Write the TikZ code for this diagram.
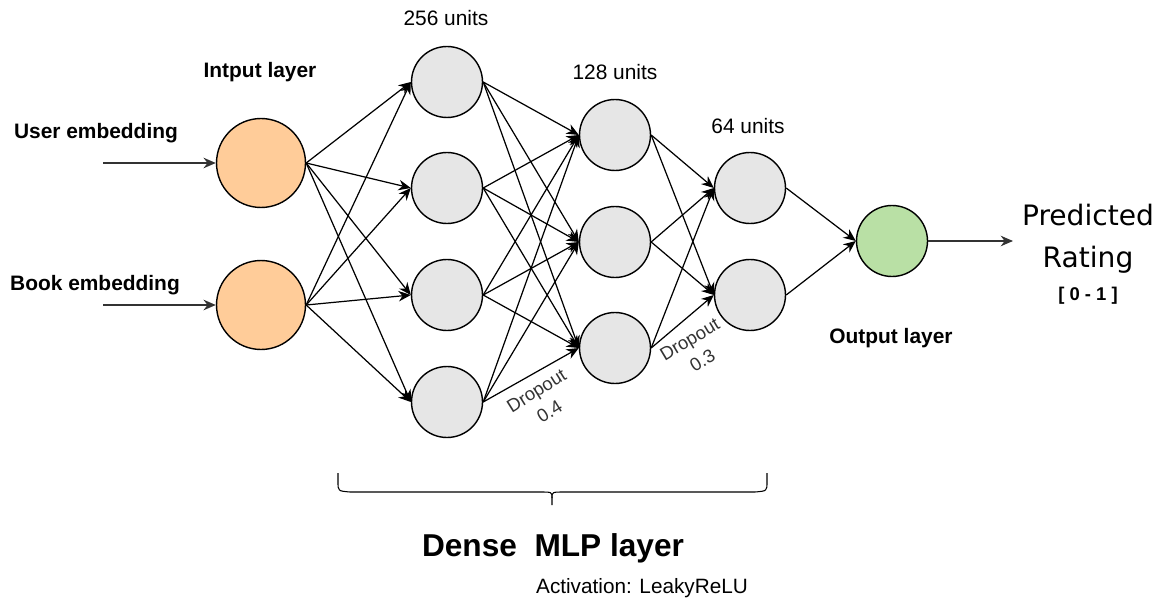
\documentclass[tikz,border=0pt]{standalone}
\usepackage{fontspec}
\setmainfont{Liberation Sans}
\newfontfamily\ratingfont{DejaVu Sans}
\usetikzlibrary{arrows.meta}

\definecolor{inorange}{HTML}{FFCC99}
\definecolor{outgreen}{HTML}{B9E0A5}
\definecolor{hidgrey}{HTML}{E6E6E6}

\tikzset{
  neuron/.style={circle,draw=black,line width=0.8pt,fill=hidgrey,minimum size=1.42cm,inner sep=0pt},
  inneuron/.style={neuron,fill=inorange,minimum size=1.78cm},
  outneuron/.style={neuron,fill=outgreen},
  link/.style={-{Stealth[length=7pt,width=6pt]},line width=0.7pt},
  feed/.style={-{Stealth[length=7pt,width=6pt]},line width=0.9pt,draw=black!80},
  boldlab/.style={font=\bfseries\fontsize{11.9}{14}\selectfont},
  unitlab/.style={font=\fontsize{11.9}{14}\selectfont},
  droplab/.style={font=\fontsize{10.5}{14}\selectfont,text=black!80,align=center},
}

\begin{document}
\begin{tikzpicture}[x=0.02cm,y=-0.02cm]
\useasboundingbox (0,0) rectangle (1166,601);

% input layer
\node[inneuron] (u) at (261,163) {};
\node[inneuron] (b) at (261,305) {};
\coordinate (uin) at (103,163);
\coordinate (bin) at (103,305);
\draw[feed] (uin) -- (u.west);
\draw[feed] (bin) -- (b.west);
\node[boldlab] (ulab) at (96,133) {User embedding};
\node[boldlab] (blab) at (95,285) {Book embedding};
\node[boldlab] (inlab) at (260,72) {Intput layer};

% dense layers
\foreach \i/\y in {1/82,2/188,3/295,4/402}
  \node[neuron] (h\i) at (447,\y) {};
\foreach \i/\y in {1/135,2/242,3/348}
  \node[neuron] (m\i) at (615,\y) {};
\foreach \i/\y in {1/188,2/295}
  \node[neuron] (s\i) at (750,\y) {};
\node[unitlab] (hlab) at (446,18) {256 units};
\node[unitlab] (mlab) at (615,72) {128 units};
\node[unitlab] (slab) at (748,126) {64 units};

% output layer
\node[outneuron] (o) at (892,241) {};
\node[boldlab] (olab) at (891,338) {Output layer};
\coordinate (oend) at (1013,241);
\draw[feed] (o.east) -- (oend);
\node[font=\ratingfont\fontsize{16}{24}\selectfont,align=center] (rate) at (1088,239) {Predicted\\Rating};
\node[font=\bfseries\fontsize{10.5}{12}\selectfont] (range) at (1088,296) {[ 0 - 1 ]};

% connections
\foreach \a in {u,b}
  \foreach \i in {1,...,4}
    \draw[link] (\a.east) -- (h\i.west);
\foreach \i in {1,...,4}
  \foreach \j in {1,2,3}
    \draw[link] (h\i.east) -- (m\j.west);
\foreach \i in {1,2,3}
  \foreach \j in {1,2}
    \draw[link] (m\i.east) -- (s\j.west);
\foreach \i in {1,2}
  \draw[link] (s\i.east) -- (o.west);

% dropout
\node[droplab,rotate=32] (d4) at (543,401) {Dropout\\0.4};
\node[droplab,rotate=31] (d3) at (696,350) {Dropout\\0.3};

% brace
\coordinate (bl) at (338,473);
\coordinate (btip) at (552,505);
\coordinate (br) at (767,473);
\draw[line width=0.6pt] (bl) -- (338,482) .. controls (338,491) .. (350,492)
  -- (540,492) .. controls (552,492) .. (552,498) -- (btip);
\draw[line width=0.6pt] (br) -- (767,482) .. controls (767,491) .. (755,492)
  -- (564,492) .. controls (552,492) .. (552,498);
\node[font=\bfseries\fontsize{18}{22}\selectfont] (dense) at (553,548) {Dense\ \ MLP layer};
\node[font=\fontsize{11.8}{14}\selectfont] (act) at (642,588) {Activation: LeakyReLU};
\end{tikzpicture}
\end{document}
